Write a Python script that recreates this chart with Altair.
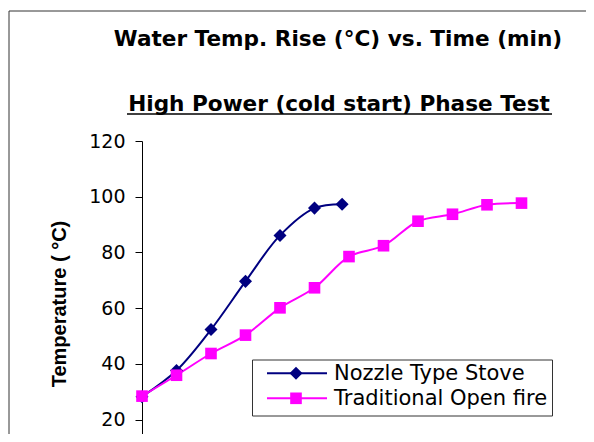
import altair as alt
import pandas as pd

# ---- data ----
series_names = ["Nozzle Type Stove", "Traditional Open fire"]
nozzle_time = [0, 5, 10, 15, 20, 25, 29]
nozzle_temp = [28.2, 37.6, 52.3, 69.6, 86.1, 95.9, 97.3]
trad_time = [0, 5, 10, 15, 20, 25, 30, 35, 40, 45, 50, 55]
trad_temp = [28.4, 35.9, 43.7, 50.3, 60.1, 67.3, 78.5, 82.4, 91.2, 93.7, 97.1, 97.7]
y_ticks = [20, 40, 60, 80, 100, 120]

title_text = "Water Temp. Rise (°C) vs. Time (min)"
subtitle_text = "High Power (cold start) Phase Test"
y_title = "Temperature ( °C)"

colors = ["#000080", "#FF00FF"]
shapes = ["diamond", "square"]
sizes = [170, 135]

times = [nozzle_time, trad_time]
temps = [nozzle_temp, trad_temp]

frames = []
for name, t, v in zip(series_names, times, temps):
    frames.append(pd.DataFrame({"time": t, "temp": v, "series": name}))

W, H = 444, 293
x_scale = alt.Scale(domain=[0, W / 6.9], nice=False, zero=False)
y_scale = alt.Scale(domain=[14.8, 120], nice=False, zero=False)
y_axis = alt.Axis(values=y_ticks, grid=False, title=None,
                  domainColor="#000000", tickColor="#000000",
                  tickSize=7, labelPadding=10,
                  labelFont="DejaVu Sans", labelFontSize=19,
                  labelColor="#000000")

one = alt.Data(values=[{}])

# chart area border (Excel-style frame)
border = alt.Chart(one).mark_rect(fillOpacity=0, stroke="#333333", strokeWidth=1).encode(
    x=alt.value(-133), x2=alt.value(700), y=alt.value(-130), y2=alt.value(500)
)

layers = [border]

# lines
for i, df in enumerate(frames):
    layers.append(
        alt.Chart(df).mark_line(color=colors[i], strokeWidth=2, interpolate="catmull-rom")
        .encode(x=alt.X("time:Q", scale=x_scale, axis=None),
                y=alt.Y("temp:Q", scale=y_scale, axis=y_axis))
    )

# markers
for i, df in enumerate(frames):
    layers.append(
        alt.Chart(df).mark_point(shape=shapes[i], filled=True, color=colors[i],
                                 size=sizes[i], opacity=1)
        .encode(x=alt.X("time:Q", scale=x_scale, axis=None),
                y=alt.Y("temp:Q", scale=y_scale, axis=y_axis))
    )

# titles
layers.append(alt.Chart(one).mark_text(font="DejaVu Sans", fontWeight="bold", fontSize=21.6,
                                       align="center", baseline="alphabetic", color="black")
              .encode(text=alt.value(title_text), x=alt.value(196), y=alt.value(-95)))
layers.append(alt.Chart(one).mark_text(font="DejaVu Sans", fontWeight="bold", fontSize=21.6,
                                       align="center", baseline="alphabetic", color="black")
              .encode(text=alt.value(subtitle_text), x=alt.value(197), y=alt.value(-30)))
layers.append(alt.Chart(one).mark_rule(color="black", strokeWidth=1.5)
              .encode(x=alt.value(-15), x2=alt.value(410), y=alt.value(-27)))

# y-axis title
layers.append(alt.Chart(one).mark_text(font="Liberation Sans", fontWeight="bold", fontSize=20,
                                       align="center", baseline="alphabetic", angle=270,
                                       color="black")
              .encode(text=alt.value(y_title), x=alt.value(-76), y=alt.value(163)))

# legend
layers.append(alt.Chart(one).mark_rect(fill="white", stroke="#333333", strokeWidth=1)
              .encode(x=alt.value(110.5), x2=alt.value(410.5), y=alt.value(219), y2=alt.value(275)))
row_y = [232.3, 257.3]
for i, name in enumerate(series_names):
    layers.append(alt.Chart(one).mark_rule(color=colors[i], strokeWidth=2)
                  .encode(x=alt.value(125), x2=alt.value(185), y=alt.value(row_y[i])))
    layers.append(alt.Chart(one).mark_point(shape=shapes[i], filled=True, color=colors[i],
                                            size=sizes[i], opacity=1)
                  .encode(x=alt.value(154), y=alt.value(row_y[i])))
    layers.append(alt.Chart(one).mark_text(font="DejaVu Sans", fontSize=21, align="left",
                                           baseline="middle", color="black")
                  .encode(text=alt.value(name), x=alt.value(192), y=alt.value(row_y[i] + 1)))

chart = alt.layer(*layers).properties(
    width=W, height=H,
    padding={"left": 134, "top": 133, "right": 0, "bottom": 0},
    autosize=alt.AutoSizeParams(type="none"),
).configure_view(stroke=None)

chart.save("out.html", embed_options={"renderer": "svg", "actions": False})
